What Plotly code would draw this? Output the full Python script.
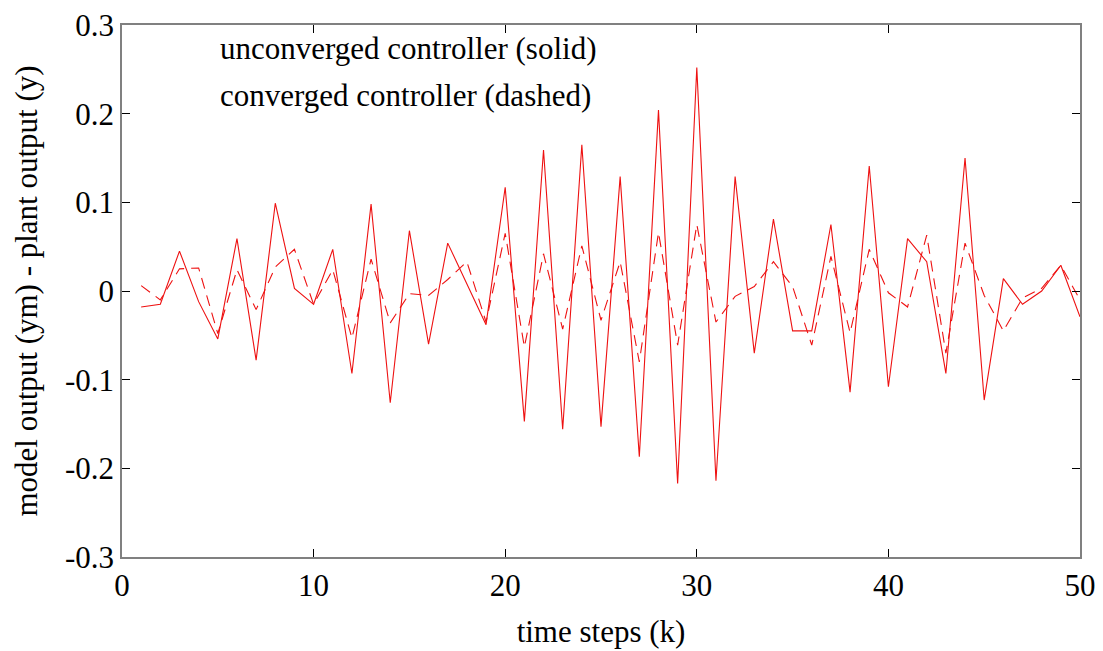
import plotly.graph_objects as go

k = list(range(1, 51))
solid = [-0.018, -0.015, 0.045, -0.012, -0.054, 0.059, -0.078, 0.099, 0.003, -0.015,
         0.047, -0.093, 0.098, -0.126, 0.068, -0.060, 0.054, 0.008, -0.038, 0.117,
         -0.147, 0.159, -0.156, 0.165, -0.153, 0.129, -0.187, 0.204, -0.217, 0.252,
         -0.214, 0.129, -0.070, 0.081, -0.045, -0.045, 0.075, -0.114, 0.141, -0.108,
         0.059, 0.033, -0.093, 0.150, -0.123, 0.014, -0.015, 0.000, 0.029, -0.029]
dashed = [0.006, -0.010, 0.025, 0.026, -0.048, 0.024, -0.021, 0.027, 0.047, -0.015,
          0.024, -0.053, 0.036, -0.036, -0.003, -0.005, 0.013, 0.033, -0.035, 0.065,
          -0.063, 0.042, -0.043, 0.051, -0.033, 0.033, -0.080, 0.066, -0.061, 0.075,
          -0.035, -0.006, 0.005, 0.033, 0.005, -0.061, 0.039, -0.047, 0.047, -0.002,
          -0.018, 0.063, -0.070, 0.054, -0.005, -0.045, -0.008, 0.003, 0.029, -0.010]

x_ticks = [0, 10, 20, 30, 40, 50]
y_ticks = [-0.3, -0.2, -0.1, 0, 0.1, 0.2, 0.3]
y_tick_text = ["-0.3", "-0.2", "-0.1", "0", "0.1", "0.2", "0.3"]

font_family = "Liberation Serif, Times New Roman, serif"
fs = 31

fig = go.Figure()
fig.add_trace(go.Scatter(x=k, y=solid, mode="lines",
                         line=dict(color="#ee1111", width=1.1), showlegend=False))
fig.add_trace(go.Scatter(x=k, y=dashed, mode="lines",
                         line=dict(color="#ee1111", width=1.1, dash="11px,7px"), showlegend=False))

fig.add_annotation(x=5, y=0.274, xref="x", yref="y", text="unconverged controller (solid)",
                   showarrow=False, xanchor="left", yanchor="middle",
                   font=dict(family=font_family, size=fs, color="black"))
fig.add_annotation(x=5, y=0.221, xref="x", yref="y", text="converged controller (dashed)",
                   showarrow=False, xanchor="left", yanchor="middle",
                   font=dict(family=font_family, size=fs, color="black"))

axis_common = dict(showgrid=False, zeroline=False, showline=True, linecolor="#808080",
                   linewidth=1.5, mirror="ticks", ticks="inside", ticklen=8,
                   tickcolor="black", tickwidth=1, automargin=False,
                   tickfont=dict(family=font_family, size=fs, color="black"))

fig.update_layout(
    width=1103, height=651,
    margin=dict(l=122, r=23, t=25, b=94),
    paper_bgcolor="white", plot_bgcolor="white",
    xaxis=dict(range=[0, 50], tickvals=x_ticks,
               title=dict(text="time steps (k)", font=dict(family=font_family, size=fs, color="black"),
                          standoff=18),
               **axis_common),
    yaxis=dict(range=[-0.3, 0.3], tickvals=y_ticks, ticktext=y_tick_text,
               title=dict(text="model output (ym) - plant output (y)",
                          font=dict(family=font_family, size=fs, color="black"), standoff=18),
               **axis_common),
)

fig.write_html("out.html")
